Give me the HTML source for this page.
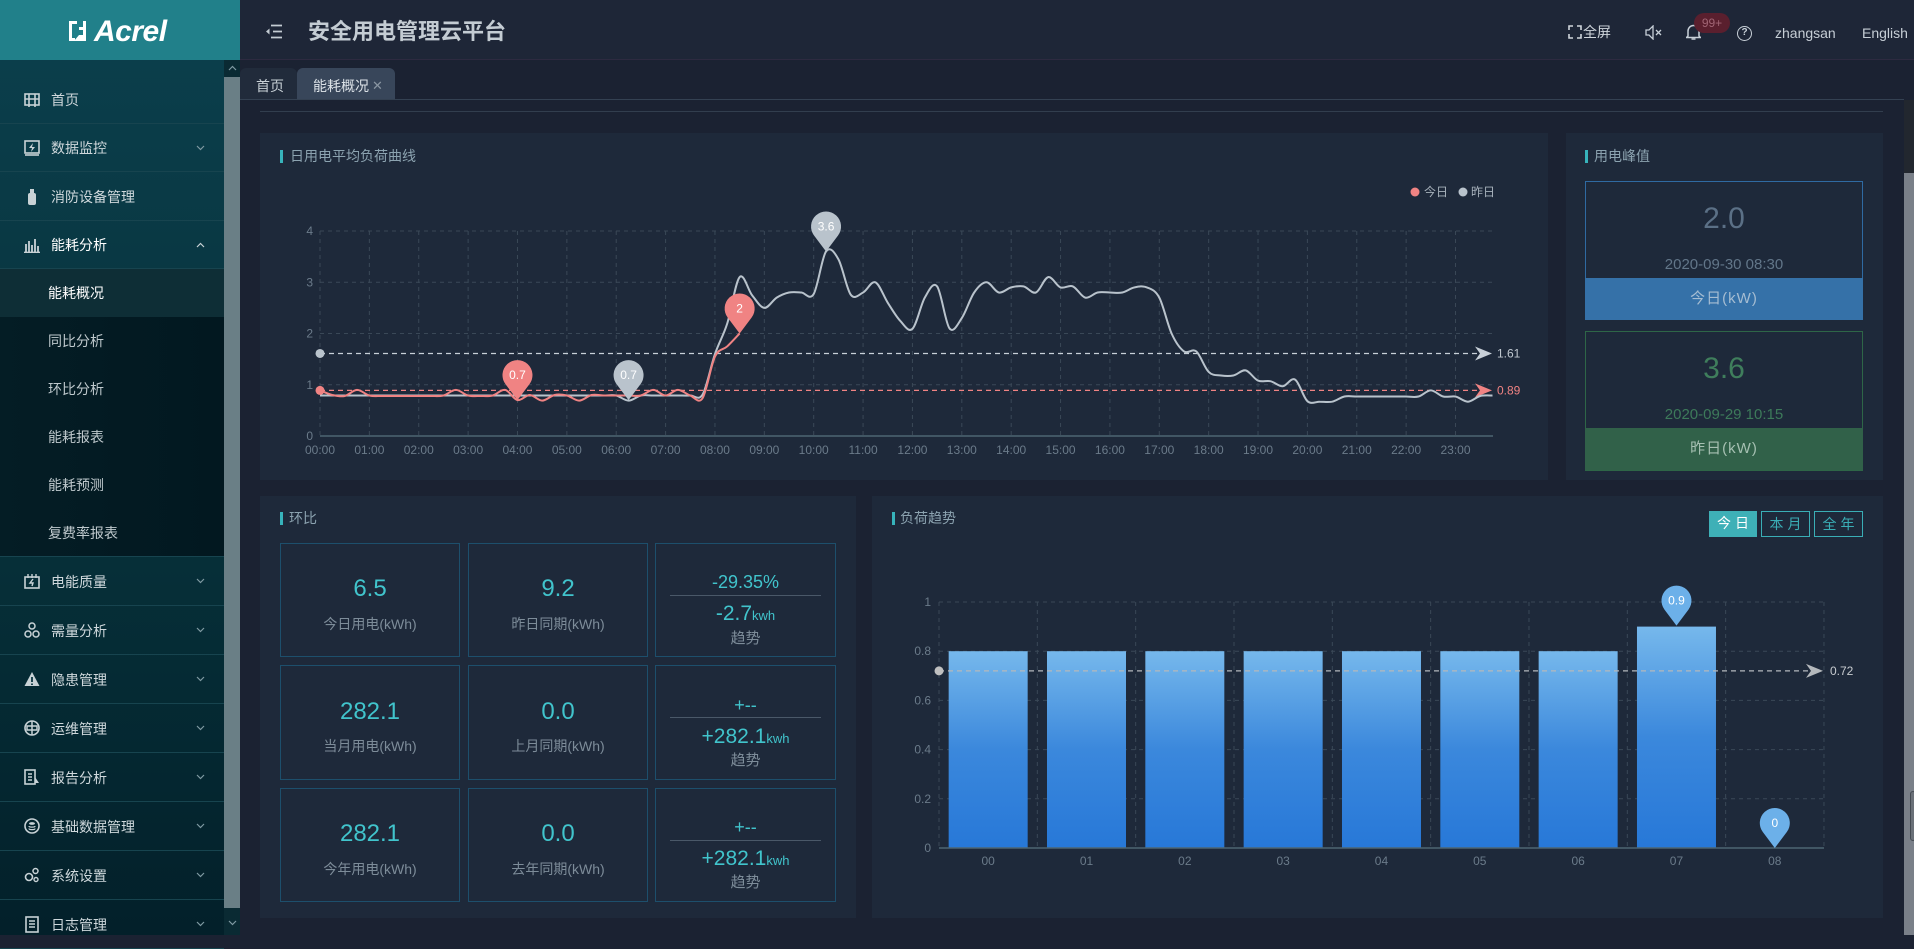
<!DOCTYPE html>
<html><head><meta charset="utf-8">
<style>
*{box-sizing:border-box;margin:0;padding:0}
body{width:1914px;height:935px;overflow:hidden;background:#1b2232;font-family:"Liberation Sans","Noto Sans CJK SC",sans-serif;position:relative}
.a{position:absolute;white-space:nowrap}
.c{position:absolute;white-space:nowrap;text-align:center}
.mi{position:absolute;left:0;width:224px;border-bottom:1px solid #17444f;color:#cfd8dc;font-size:14px}
.mi span.tx{position:absolute;left:51px}
.mi svg.ic{position:absolute;left:24px}
.mi svg.ch{position:absolute;left:196px}
.si{position:absolute;left:0;width:224px;color:#bfc9cd;font-size:14px}
.si span{position:absolute;left:48px}
.panel{position:absolute;background:#1e293a}
.ttl{position:absolute;color:#8ca3b0;font-size:14px;line-height:16px}
.acc{position:absolute;width:3px;height:13px;background:#37b3bb}
.card{position:absolute;border:1px solid #1d4f6c}
.val{position:absolute;left:0;width:100%;text-align:center;color:#41c4cc;font-size:24px;line-height:28px}
.lab{position:absolute;left:0;width:100%;text-align:center;color:#7d8c99;font-size:14px;line-height:18px}
.tr1{position:absolute;left:0;width:100%;text-align:center;color:#41c4cc;font-size:18px;line-height:22px}
.tr2{position:absolute;left:0;width:100%;text-align:center;color:#41c4cc;font-size:21px;line-height:26px}
.tr2 small{font-size:13px}
.sep{position:absolute;left:14px;right:14px;height:1px;background:#4a5868}
.btn{position:absolute;top:511px;height:26px;font-size:14px;line-height:24px;text-align:center;letter-spacing:4px;padding-left:4px}
</style></head>
<body>

<!-- Sidebar -->
<div class="a" style="left:0;top:0;width:240px;height:60px;background:#21808a"></div>
<svg class="a" style="left:68px;top:19px" width="24" height="24" viewBox="0 0 24 24">
<path d="M1 2h8v3H4v14h3v3H1z" fill="#fff"/><path d="M11 8h4V2h3v20H6l5-6h4v-5h-4z" fill="#fff"/>
</svg>
<div class="a" style="left:94px;top:14px;font-size:30px;line-height:36px;font-weight:bold;font-style:italic;color:#fff;letter-spacing:-0.5px">Acrel</div>

<div class="a" style="left:0;top:60px;width:224px;height:875px;background:linear-gradient(#0b3e4b,#063039 55%,#03202a)"></div>

<div class="mi" style="top:76px;height:48px"><svg class="ic" style="top:16px" width="16" height="16"><rect x="1" y="2" width="14" height="11" fill="none" stroke="#c8d2d6" stroke-width="1.6"/><path d="M5 2v13M11 2v13M1 7h14" stroke="#c8d2d6" stroke-width="1.6"/></svg><span class="tx" style="top:14px;line-height:20px">首页</span></div>
<div class="mi" style="top:124px;height:48px"><svg class="ic" style="top:16px" width="16" height="16"><rect x="1" y="1" width="14" height="12" fill="none" stroke="#c8d2d6" stroke-width="1.6"/><path d="M9 3l-4 5h3l-1 4 4-5H8z" fill="#c8d2d6"/><path d="M1 15h14" stroke="#c8d2d6" stroke-width="1.6"/></svg><span class="tx" style="top:14px;line-height:20px">数据监控</span><svg class="ch" style="top:21px" width="9" height="6"><path d="M1 1l3.5 3.5L8 1" fill="none" stroke="#7f9aa2" stroke-width="1.2"/></svg></div>
<div class="mi" style="top:172px;height:49px"><svg class="ic" style="top:16px" width="16" height="18"><rect x="4" y="5" width="8" height="12" rx="2" fill="#c8d2d6"/><rect x="6" y="1" width="4" height="4" fill="#c8d2d6"/></svg><span class="tx" style="top:15px;line-height:20px">消防设备管理</span></div>
<div class="mi" style="top:221px;height:48px"><svg class="ic" style="top:16px" width="16" height="16"><path d="M2 15V7M5 15V4M8 15V8M11 15V2M14 15V9M0 15.5h16" stroke="#c8d2d6" stroke-width="1.8"/></svg><span class="tx" style="top:14px;line-height:20px;color:#fff">能耗分析</span><svg class="ch" style="top:21px" width="9" height="6"><path d="M1 5l3.5-3.5L8 5" fill="none" stroke="#c8d2d6" stroke-width="1.2"/></svg></div>

<div class="a" style="left:0;top:269px;width:224px;height:288px;background:linear-gradient(90deg,#041d25,#021820)"></div>
<div class="a" style="left:0;top:269px;width:224px;height:48px;background:#0e2e36"></div>
<div class="si" style="top:269px;height:48px"><span style="top:14px;line-height:20px;color:#fff">能耗概况</span></div>
<div class="si" style="top:317px;height:48px"><span style="top:14px;line-height:20px">同比分析</span></div>
<div class="si" style="top:365px;height:48px"><span style="top:14px;line-height:20px">环比分析</span></div>
<div class="si" style="top:413px;height:48px"><span style="top:14px;line-height:20px">能耗报表</span></div>
<div class="si" style="top:461px;height:48px"><span style="top:14px;line-height:20px">能耗预测</span></div>
<div class="si" style="top:509px;height:48px"><span style="top:14px;line-height:20px">复费率报表</span></div>
<div class="a" style="left:0;top:556px;width:224px;height:1px;background:#17444f"></div>

<div class="mi" style="top:557px;height:49px"><svg class="ic" style="top:16px" width="16" height="17"><rect x="1" y="4" width="14" height="11" fill="none" stroke="#c8d2d6" stroke-width="1.6"/><path d="M4 1v4M8 1v4M12 1v4M9 6l-3 4h3l-1 3" stroke="#c8d2d6" stroke-width="1.4" fill="none"/></svg><span class="tx" style="top:15px;line-height:20px">电能质量</span><svg class="ch" style="top:21px" width="9" height="6"><path d="M1 1l3.5 3.5L8 1" fill="none" stroke="#7f9aa2" stroke-width="1.2"/></svg></div>
<div class="mi" style="top:606px;height:49px"><svg class="ic" style="top:16px" width="16" height="16"><circle cx="8" cy="4" r="3" fill="none" stroke="#c8d2d6" stroke-width="1.5"/><circle cx="4" cy="12" r="3" fill="none" stroke="#c8d2d6" stroke-width="1.5"/><circle cx="12" cy="12" r="3" fill="none" stroke="#c8d2d6" stroke-width="1.5"/></svg><span class="tx" style="top:15px;line-height:20px">需量分析</span><svg class="ch" style="top:21px" width="9" height="6"><path d="M1 1l3.5 3.5L8 1" fill="none" stroke="#7f9aa2" stroke-width="1.2"/></svg></div>
<div class="mi" style="top:655px;height:49px"><svg class="ic" style="top:16px" width="16" height="16"><path d="M8 1L15.5 15H.5z" fill="#c8d2d6"/><path d="M8 6v5M8 12.5v1.5" stroke="#0a3540" stroke-width="1.8"/></svg><span class="tx" style="top:15px;line-height:20px">隐患管理</span><svg class="ch" style="top:21px" width="9" height="6"><path d="M1 1l3.5 3.5L8 1" fill="none" stroke="#7f9aa2" stroke-width="1.2"/></svg></div>
<div class="mi" style="top:704px;height:49px"><svg class="ic" style="top:16px" width="16" height="16"><circle cx="8" cy="8" r="7" fill="none" stroke="#c8d2d6" stroke-width="1.6"/><path d="M8 1v14M3 6h10v4H3z" stroke="#c8d2d6" stroke-width="1.5" fill="none"/></svg><span class="tx" style="top:15px;line-height:20px">运维管理</span><svg class="ch" style="top:21px" width="9" height="6"><path d="M1 1l3.5 3.5L8 1" fill="none" stroke="#7f9aa2" stroke-width="1.2"/></svg></div>
<div class="mi" style="top:753px;height:49px"><svg class="ic" style="top:16px" width="16" height="16"><rect x="1" y="1" width="10" height="14" fill="none" stroke="#c8d2d6" stroke-width="1.6"/><path d="M4 5h4M4 8h4M4 11h4" stroke="#c8d2d6" stroke-width="1.4"/><path d="M11 8l4 6h-4z" fill="#c8d2d6"/></svg><span class="tx" style="top:15px;line-height:20px">报告分析</span><svg class="ch" style="top:21px" width="9" height="6"><path d="M1 1l3.5 3.5L8 1" fill="none" stroke="#7f9aa2" stroke-width="1.2"/></svg></div>
<div class="mi" style="top:802px;height:49px"><svg class="ic" style="top:16px" width="16" height="16"><circle cx="8" cy="8" r="7" fill="none" stroke="#c8d2d6" stroke-width="1.6"/><ellipse cx="8" cy="5.5" rx="3" ry="1.4" fill="#c8d2d6"/><path d="M5 8c0 1.5 6 1.5 6 0M5 10.5c0 1.5 6 1.5 6 0" stroke="#c8d2d6" stroke-width="1.3" fill="none"/></svg><span class="tx" style="top:15px;line-height:20px">基础数据管理</span><svg class="ch" style="top:21px" width="9" height="6"><path d="M1 1l3.5 3.5L8 1" fill="none" stroke="#7f9aa2" stroke-width="1.2"/></svg></div>
<div class="mi" style="top:851px;height:49px"><svg class="ic" style="top:16px" width="16" height="16"><circle cx="5" cy="10" r="3.5" fill="none" stroke="#c8d2d6" stroke-width="1.6"/><circle cx="11.5" cy="4" r="2.5" fill="none" stroke="#c8d2d6" stroke-width="1.5"/><circle cx="12" cy="12.5" r="2" fill="none" stroke="#c8d2d6" stroke-width="1.4"/></svg><span class="tx" style="top:15px;line-height:20px">系统设置</span><svg class="ch" style="top:21px" width="9" height="6"><path d="M1 1l3.5 3.5L8 1" fill="none" stroke="#7f9aa2" stroke-width="1.2"/></svg></div>
<div class="mi" style="top:900px;height:49px"><svg class="ic" style="top:16px" width="16" height="17"><rect x="2" y="1" width="12" height="15" fill="none" stroke="#c8d2d6" stroke-width="1.6"/><path d="M5 5h6M5 8h6M5 11h6" stroke="#c8d2d6" stroke-width="1.4"/></svg><span class="tx" style="top:15px;line-height:20px">日志管理</span><svg class="ch" style="top:21px" width="9" height="6"><path d="M1 1l3.5 3.5L8 1" fill="none" stroke="#7f9aa2" stroke-width="1.2"/></svg></div>

<!-- sidebar scrollbar -->
<div class="a" style="left:224px;top:60px;width:16px;height:875px;background:#0a2a33"></div>
<div class="a" style="left:224px;top:77px;width:16px;height:831px;background:#6a7f86"></div>
<svg class="a" style="left:228px;top:65px" width="9" height="6"><path d="M1 5l3.5-3.5L8 5" fill="none" stroke="#7f9aa2" stroke-width="1.2"/></svg>
<svg class="a" style="left:228px;top:920px" width="9" height="6"><path d="M1 1l3.5 3.5L8 1" fill="none" stroke="#7f9aa2" stroke-width="1.2"/></svg>

<!-- Header -->
<div class="a" style="left:240px;top:0;width:1674px;height:60px;background:#1e2637;border-bottom:1px solid #2d2a40"></div>
<svg class="a" style="left:265px;top:24px" width="18" height="15"><path d="M6 1.5h11M8 7.5h9M6 13.5h11" stroke="#c4ccd3" stroke-width="1.8"/><path d="M1 7.5l3.5-3v6z" fill="#c4ccd3"/></svg>
<div class="a" style="left:308px;top:19px;font-size:22px;line-height:26px;font-weight:bold;color:#c4ccd3">安全用电管理云平台</div>

<svg class="a" style="left:1568px;top:25px" width="14" height="14"><path d="M1 5V1h4M9 1h4v4M13 9v4H9M5 13H1V9" fill="none" stroke="#d0d6dc" stroke-width="1.6"/></svg>
<div class="a" style="left:1583px;top:23px;font-size:14px;line-height:18px;color:#d0d6dc">全屏</div>
<svg class="a" style="left:1645px;top:25px" width="18" height="15"><path d="M1 5h3l4-4v13l-4-4H1z" fill="none" stroke="#c8d0d8" stroke-width="1.3"/><path d="M11 5l5 5M16 5l-5 5" stroke="#c8d0d8" stroke-width="1.3"/></svg>
<svg class="a" style="left:1686px;top:23px" width="15" height="18"><path d="M2 13V8a5.5 5.5 0 0 1 11 0v5l1.5 1.5H.5z" fill="none" stroke="#c8d0d8" stroke-width="1.5"/><path d="M5.5 16h4" stroke="#c8d0d8" stroke-width="1.5"/></svg>
<div class="c" style="left:1694px;top:13px;width:36px;height:20px;border-radius:10px;background:#5a1f2e;color:#a06474;font-size:12px;line-height:20px">99+</div>
<div class="c" style="left:1737px;top:26px;width:15px;height:15px;border-radius:50%;border:1.4px solid #c8d0d8;color:#c8d0d8;font-size:10px;line-height:12px;font-weight:bold">?</div>
<div class="a" style="left:1775px;top:24px;font-size:14px;line-height:18px;color:#c6ced6">zhangsan</div>
<div class="a" style="left:1862px;top:24px;font-size:14px;line-height:18px;color:#c6ced6">English</div>

<!-- Tabs -->
<div class="a" style="left:240px;top:68px;width:57px;height:31px;background:#212b3b;border-radius:6px 6px 0 0"></div>
<div class="a" style="left:256px;top:76px;font-size:14px;line-height:20px;color:#c8d0d6">首页</div>
<div class="a" style="left:297px;top:68px;width:98px;height:31px;background:#38465a;border-radius:6px 6px 0 0"></div>
<div class="a" style="left:313px;top:76px;font-size:14px;line-height:20px;color:#dde3e8">能耗概况</div>
<div class="a" style="left:372px;top:76px;font-size:13px;line-height:20px;color:#8a96a2">✕</div>
<div class="a" style="left:240px;top:99px;width:1664px;height:1px;background:#344152"></div>
<div class="a" style="left:260px;top:111px;width:1623px;height:1px;background:#323e4e"></div>

<!-- right scrollbar -->
<div class="a" style="left:1904px;top:100px;width:10px;height:73px;background:#22272f"></div>
<div class="a" style="left:1904px;top:173px;width:10px;height:762px;background:#7a8089"></div>
<div class="a" style="left:1910px;top:791px;width:6px;height:50px;border:1px solid #444a52;border-radius:3px;background:#6a7078"></div>

<!-- Panels -->
<div class="panel" style="left:260px;top:133px;width:1288px;height:347px"></div>
<div class="acc" style="left:280px;top:150px"></div>
<div class="ttl" style="left:290px;top:148px">日用电平均负荷曲线</div>

<div class="panel" style="left:1566px;top:133px;width:317px;height:347px"></div>
<div class="acc" style="left:1585px;top:150px"></div>
<div class="ttl" style="left:1594px;top:148px">用电峰值</div>

<div class="a" style="left:1585px;top:181px;width:278px;height:139px;border:1px solid #2f6aa2"></div>
<div class="a" style="left:1585px;top:278px;width:278px;height:42px;background:#3571a8"></div>
<div class="c" style="left:1585px;width:278px;top:201px;font-size:30px;line-height:36px;color:#5b7086">2.0</div>
<div class="c" style="left:1585px;width:278px;top:256px;font-size:15px;line-height:18px;color:#627689">2020-09-30 08:30</div>
<div class="c" style="left:1585px;width:278px;top:290px;font-size:15px;line-height:18px;color:#a6bdd2;letter-spacing:1px">今日(kW)</div>

<div class="a" style="left:1585px;top:331px;width:278px;height:140px;border:1px solid #2e6647"></div>
<div class="a" style="left:1585px;top:428px;width:278px;height:42px;background:#316149"></div>
<div class="c" style="left:1585px;width:278px;top:351px;font-size:30px;line-height:36px;color:#3f7e5c">3.6</div>
<div class="c" style="left:1585px;width:278px;top:406px;font-size:15px;line-height:18px;color:#3d7a5a">2020-09-29 10:15</div>
<div class="c" style="left:1585px;width:278px;top:440px;font-size:15px;line-height:18px;color:#a6c0b2;letter-spacing:1px">昨日(kW)</div>

<div class="panel" style="left:260px;top:496px;width:596px;height:422px"></div>
<div class="acc" style="left:280px;top:512px"></div>
<div class="ttl" style="left:289px;top:510px">环比</div>

<!-- cards row1 -->
<div class="card" style="left:280px;top:543px;width:180px;height:114px"><div class="val" style="top:31px">6.5</div><div class="lab" style="top:71px">今日用电(kWh)</div></div>
<div class="card" style="left:468px;top:543px;width:180px;height:114px"><div class="val" style="top:31px">9.2</div><div class="lab" style="top:71px">昨日同期(kWh)</div></div>
<div class="card" style="left:655px;top:543px;width:181px;height:114px"><div class="tr1" style="top:27px">-29.35%</div><div class="sep" style="top:51px"></div><div class="tr2" style="top:57px">-2.7<small>kwh</small></div><div class="lab" style="top:86px;font-size:15px">趋势</div></div>
<!-- row2 -->
<div class="card" style="left:280px;top:665px;width:180px;height:115px"><div class="val" style="top:32px">282.1</div><div class="lab" style="top:71px">当月用电(kWh)</div></div>
<div class="card" style="left:468px;top:665px;width:180px;height:115px"><div class="val" style="top:32px">0.0</div><div class="lab" style="top:71px">上月同期(kWh)</div></div>
<div class="card" style="left:655px;top:665px;width:181px;height:115px"><div class="tr1" style="top:28px">+--</div><div class="sep" style="top:51px"></div><div class="tr2" style="top:58px">+282.1<small>kwh</small></div><div class="lab" style="top:86px;font-size:15px">趋势</div></div>
<!-- row3 -->
<div class="card" style="left:280px;top:788px;width:180px;height:114px"><div class="val" style="top:31px">282.1</div><div class="lab" style="top:71px">今年用电(kWh)</div></div>
<div class="card" style="left:468px;top:788px;width:180px;height:114px"><div class="val" style="top:31px">0.0</div><div class="lab" style="top:71px">去年同期(kWh)</div></div>
<div class="card" style="left:655px;top:788px;width:181px;height:114px"><div class="tr1" style="top:27px">+--</div><div class="sep" style="top:51px"></div><div class="tr2" style="top:57px">+282.1<small>kwh</small></div><div class="lab" style="top:85px;font-size:15px">趋势</div></div>

<div class="panel" style="left:872px;top:496px;width:1011px;height:422px"></div>
<div class="acc" style="left:892px;top:512px"></div>
<div class="ttl" style="left:900px;top:510px">负荷趋势</div>
<div class="btn" style="left:1709px;width:48px;background:#3eb0b7;color:#fff">今日</div>
<div class="btn" style="left:1761px;width:49px;border:1px solid #3aaeb6;color:#3aaeb6">本月</div>
<div class="btn" style="left:1814px;width:49px;border:1px solid #3aaeb6;color:#3aaeb6">全年</div>

<svg id="ov" class="a" style="left:0;top:0" width="1914" height="935" viewBox="0 0 1914 935" font-family="Liberation Sans, Noto Sans CJK SC, sans-serif">
<defs>
<linearGradient id="bg" x1="0" y1="0" x2="0" y2="1"><stop offset="0" stop-color="#76b8ec"/><stop offset="0.5" stop-color="#3b88dc"/><stop offset="1" stop-color="#2778d8"/></linearGradient>
</defs>
</svg>

<script>
(function(){
var NS='http://www.w3.org/2000/svg';
var svg=document.getElementById('ov');
function el(tag,attrs,text){var e=document.createElementNS(NS,tag);for(var k in attrs)e.setAttribute(k,attrs[k]);if(text!=null)e.textContent=text;svg.appendChild(e);return e;}
function smooth(p){var d='M'+p[0][0].toFixed(1)+','+p[0][1].toFixed(1);for(var i=0;i<p.length-1;i++){var p0=p[i-1]||p[i],p1=p[i],p2=p[i+1],p3=p[i+2]||p2;var c1x=p1[0]+(p2[0]-p0[0])/6,c1y=p1[1]+(p2[1]-p0[1])/6,c2x=p2[0]-(p3[0]-p1[0])/6,c2y=p2[1]-(p3[1]-p1[1])/6;d+=' C'+c1x.toFixed(1)+','+c1y.toFixed(1)+' '+c2x.toFixed(1)+','+c2y.toFixed(1)+' '+p2[0].toFixed(1)+','+p2[1].toFixed(1);}return d;}
function pin(x,y,color,label){el('path',{d:'M'+x+','+y+' L'+(x-12)+','+(y-16)+' A15,15 0 1,1 '+(x+12)+','+(y-16)+' Z',fill:color});el('text',{x:x,y:y-21,'text-anchor':'middle',fill:'#fff','font-size':12},label);}
function arrow(x,y,color){el('path',{d:'M'+x+','+y+' L'+(x-17)+','+(y-7)+' L'+(x-12)+','+y+' L'+(x-17)+','+(y+7)+' Z',fill:color});}
var GRID='#3a4857',LAB='#6b7b8a';
// ---- line chart
var LX=function(h){return 320+h*49.37},LY=function(v){return 436-v*51.25};
for(var v=1;v<=4;v++)el('line',{x1:320,x2:1493,y1:LY(v),y2:LY(v),stroke:GRID,'stroke-dasharray':'4 4'});
for(var h=0;h<24;h++){el('line',{x1:LX(h),x2:LX(h),y1:LY(4),y2:436,stroke:GRID,'stroke-dasharray':'4 4'});el('text',{x:LX(h),y:454,'text-anchor':'middle',fill:LAB,'font-size':12},(h<10?'0':'')+h+':00');}
el('line',{x1:320,x2:1493,y1:436,y2:436,stroke:'#4d6673','stroke-width':1.5});
for(var v=0;v<=4;v++)el('text',{x:313,y:LY(v)+4,'text-anchor':'end',fill:LAB,'font-size':12},String(v));
// legend
el('circle',{cx:1415,cy:192,r:4.5,fill:'#f08383'});el('text',{x:1424,y:196,fill:'#a7b1bb','font-size':12},'今日');
el('circle',{cx:1463,cy:192,r:4.5,fill:'#b9c3cc'});el('text',{x:1471,y:196,fill:'#a7b1bb','font-size':12},'昨日');
var yd=[];for(var i=0;i<25;i++)yd.push(0.79);
yd=yd.concat([0.69,0.79,0.79,0.79,0.79,0.79,0.81,1.6,2.2,3.1,2.75,2.5,2.7,2.8,2.8,2.77,3.6,3.45,2.76,2.8,3.0,2.6,2.25,2.09,2.7,2.92,2.1,2.3,2.8,3.0,2.8,2.9,2.92,2.8,3.1,2.9,2.92,2.7,2.8,2.8,2.8,2.9,2.9,2.7,2.0,1.65,1.65,1.25,1.18,1.18,1.28,1.08,1.07,0.97,1.1,0.68,0.67,0.67,0.77,0.77,0.77,0.77,0.77,0.77,0.77,0.89,0.77,0.77,0.67,0.78,0.79]);
var td=[0.89,0.80,0.78,0.90,0.79,0.78,0.78,0.78,0.78,0.78,0.79,0.90,0.79,0.78,0.79,0.90,0.70,0.80,0.69,0.80,0.79,0.69,0.80,0.79,0.79,0.79,0.79,0.90,0.79,0.90,0.79,0.74,1.55,1.75,2.0];
function pts(a){return a.map(function(v,i){return [LX(i/4),LY(v)]});}
// mark lines
el('line',{x1:320,x2:1478,y1:LY(1.61),y2:LY(1.61),stroke:'#c8d0d8','stroke-dasharray':'5 4','stroke-width':1.2});
el('circle',{cx:320,cy:LY(1.61),r:4.5,fill:'#b9c3cc'});arrow(1492,LY(1.61),'#c8d0d8');
el('text',{x:1497,y:LY(1.61)+4,fill:'#c0c8d0','font-size':12},'1.61');
el('line',{x1:320,x2:1478,y1:LY(0.89),y2:LY(0.89),stroke:'#f08383','stroke-dasharray':'5 4','stroke-width':1.2});
arrow(1492,LY(0.89),'#f08383');
el('text',{x:1497,y:LY(0.89)+4,fill:'#f08383','font-size':12},'0.89');
el('path',{d:smooth(pts(yd)),fill:'none',stroke:'#b9c3cc','stroke-width':2});
el('path',{d:smooth(pts(td)),fill:'none',stroke:'#f08383','stroke-width':2});
el('circle',{cx:320,cy:LY(0.89),r:4.5,fill:'#f08383'});
pin(LX(4),LY(0.7),'#f08383','0.7');
pin(LX(8.5),LY(2),'#f08383','2');
pin(LX(6.25),LY(0.7),'#b9c3cc','0.7');
pin(LX(10.25),LY(3.6),'#b9c3cc','3.6');
// ---- bar chart
var BW=98.33,BX=function(c){return 939+c*BW},BY=function(v){return 848-v*246};
for(var k=1;k<=5;k++)el('line',{x1:939,x2:1824,y1:BY(k*0.2),y2:BY(k*0.2),stroke:GRID,'stroke-dasharray':'4 4'});
for(var c=0;c<=9;c++)el('line',{x1:BX(c),x2:BX(c),y1:BY(1),y2:848,stroke:GRID,'stroke-dasharray':'4 4'});
var yl=['0','0.2','0.4','0.6','0.8','1'];
for(var k=0;k<=5;k++)el('text',{x:931,y:BY(k*0.2)+4,'text-anchor':'end',fill:LAB,'font-size':12},yl[k]);
var bv=[0.8,0.8,0.8,0.8,0.8,0.8,0.8,0.9,0];
for(var c=0;c<9;c++){var cx=BX(c)+BW/2;if(bv[c]>0)el('rect',{x:cx-39.5,y:BY(bv[c]),width:79,height:848-BY(bv[c]),fill:'url(#bg)'});el('text',{x:cx,y:865,'text-anchor':'middle',fill:LAB,'font-size':12},'0'+c);}
el('line',{x1:939,x2:1824,y1:848,y2:848,stroke:'#4d6673','stroke-width':1.5});
el('line',{x1:939,x2:1810,y1:BY(0.72),y2:BY(0.72),stroke:'#b4b8bc','stroke-dasharray':'5 4','stroke-width':1.2});
el('circle',{cx:939,cy:BY(0.72),r:4.5,fill:'#c0c0c0'});arrow(1823,BY(0.72),'#b4b8bc');
el('text',{x:1830,y:BY(0.72)+4,fill:'#c8ccd0','font-size':12},'0.72');
pin(BX(7)+BW/2,BY(0.9)-1,'#6cb0e9','0.9');
pin(BX(8)+BW/2,848,'#6cb0e9','0');
})();
</script>
</body></html>
